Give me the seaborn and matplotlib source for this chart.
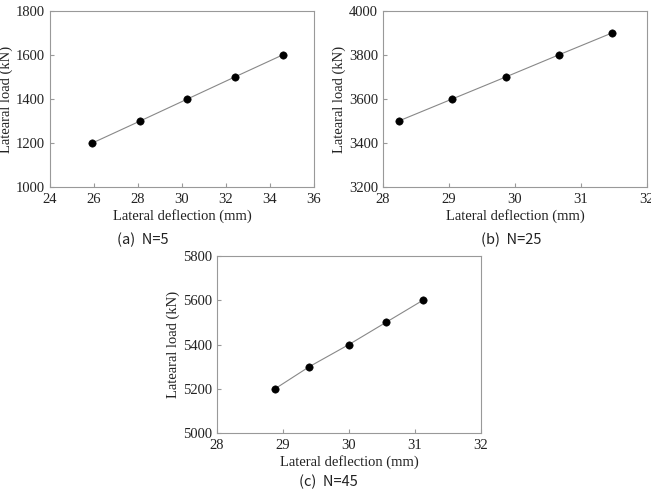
import seaborn as sns
import matplotlib
matplotlib.use("Agg")
import matplotlib.pyplot as plt
import pandas as pd

# data
load_a = [1200, 1300, 1400, 1500, 1600]
defl_a = [25.93, 28.10, 30.25, 32.40, 34.57]
load_b = [3500, 3600, 3700, 3800, 3900]
defl_b = [28.24, 29.05, 29.86, 30.66, 31.47]
load_c = [5200, 5300, 5400, 5500, 5600]
defl_c = [28.88, 29.40, 30.00, 30.56, 31.12]

captions = ["(a)  N=5", "(b)  N=25", "(c)  N=45"]
xlims = [(24, 36), (28, 32), (28, 32)]
xticks = [[24, 26, 28, 30, 32, 34, 36], [28, 29, 30, 31, 32], [28, 29, 30, 31, 32]]
ylims = [(1000, 1800), (3200, 4000), (5000, 5800)]

sns.set_style("ticks")
plt.rcParams['font.family'] = ['Liberation Serif', 'DejaVu Serif']

fig = plt.figure(figsize=(6.51, 4.90), dpi=100)
boxes = [[0.0768, 0.6184, 0.4055, 0.3592],
         [0.5883, 0.6184, 0.4055, 0.3592],
         [0.3333, 0.1163, 0.4055, 0.3612]]
caption_pos = [(0.22, 0.510), (0.786, 0.510), (0.504, 0.016)]

sets = [(defl_a, load_a), (defl_b, load_b), (defl_c, load_c)]
for i, (x, y) in enumerate(sets):
    ax = fig.add_axes(boxes[i])
    df = pd.DataFrame({'defl': x, 'load': y})
    sns.lineplot(data=df, x='defl', y='load', ax=ax, color='#888888', linewidth=0.8)
    sns.scatterplot(data=df, x='defl', y='load', ax=ax, color='black', s=28,
                    edgecolor='black', zorder=3)
    ax.set_xlim(*xlims[i])
    ax.set_ylim(*ylims[i])
    ax.set_xticks(xticks[i])
    ax.set_yticks(range(ylims[i][0], ylims[i][1] + 1, 200))
    ax.tick_params(direction='in', length=3, labelsize=10.5, colors='#999999',
                   labelcolor='#222222')
    ax.tick_params(axis='x', pad=4.5)
    ax.tick_params(axis='y', pad=3.5)
    for sp in ax.spines.values():
        sp.set_color('#999999')
        sp.set_linewidth(0.8)
    ax.set_xlabel('Lateral deflection (mm)', fontsize=10.5, color='#222222', labelpad=2)
    ax.set_ylabel('Latearal load (kN)', fontsize=10.5, color='#222222', labelpad=2)
    fig.text(caption_pos[i][0], caption_pos[i][1], captions[i], ha='center', va='center',
             fontsize=10.5, color='#222222', family=['Noto Sans CJK KR', 'DejaVu Sans'])

fig.savefig('out.png', dpi=100)
